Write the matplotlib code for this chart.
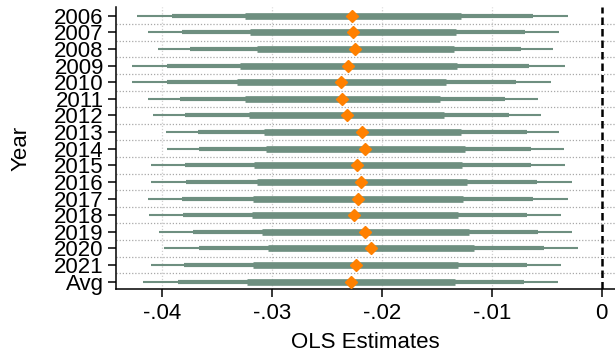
import matplotlib
matplotlib.use("Agg")
import matplotlib.pyplot as plt

plt.rcParams['font.family'] = ['Liberation Sans', 'DejaVu Sans']

years = ['2006', '2007', '2008', '2009', '2010', '2011', '2012', '2013',
         '2014', '2015', '2016', '2017', '2018', '2019', '2020', '2021', 'Avg']

# point estimates and the three interval widths (outer, middle, inner)
est = [-0.02267, -0.02261, -0.02240, -0.02306, -0.02370, -0.02358, -0.02318, -0.02179,
       -0.02149, -0.02222, -0.02188, -0.02218, -0.02249, -0.02149, -0.02100, -0.02236, -0.02282]
lo_outer = [-0.04227, -0.04127, -0.04036, -0.04273, -0.04267, -0.04127, -0.04082, -0.03964,
            -0.03955, -0.04100, -0.04097, -0.04127, -0.04115, -0.04027, -0.03979, -0.04100, -0.04167]
hi_outer = [-0.00304, -0.00388, -0.00440, -0.00334, -0.00464, -0.00582, -0.00552, -0.00388,
            -0.00343, -0.00334, -0.00273, -0.00309, -0.00373, -0.00273, -0.00218, -0.00373, -0.00395]
lo_mid = [-0.03904, -0.03818, -0.03740, -0.03949, -0.03955, -0.03834, -0.03788, -0.03667,
          -0.03658, -0.03788, -0.03779, -0.03813, -0.03806, -0.03718, -0.03664, -0.03795, -0.03855]
hi_mid = [-0.00627, -0.00697, -0.00734, -0.00658, -0.00779, -0.00879, -0.00843, -0.00682,
          -0.00643, -0.00643, -0.00591, -0.00622, -0.00682, -0.00582, -0.00525, -0.00682, -0.00704]
lo_in = [-0.03243, -0.03197, -0.03136, -0.03288, -0.03318, -0.03243, -0.03204, -0.03067,
         -0.03055, -0.03161, -0.03136, -0.03173, -0.03182, -0.03085, -0.03036, -0.03173, -0.03227]
hi_in = [-0.01282, -0.01325, -0.01340, -0.01318, -0.01415, -0.01470, -0.01434, -0.01279,
         -0.01243, -0.01273, -0.01227, -0.01264, -0.01309, -0.01206, -0.01158, -0.01309, -0.01334]

xticks = [-0.04, -0.03, -0.02, -0.01, 0]
xticklabels = ['-.04', '-.03', '-.02', '-.01', '0']

bar_col = '#6e8f80'
pt_col = '#ff8000'
fs = 16

fig = plt.figure(figsize=(6.15, 3.55), dpi=100)
ax = fig.add_axes([116.3 / 615, 66 / 355, (615 - 116.3) / 615, 281.7 / 355])

ypos = list(range(len(years)))

# grid
for x in xticks[:-1]:
    ax.axvline(x, color='#cfcfcf', lw=0.9, ls=(0, (1, 1.5)), zorder=0)
for i in range(len(years) - 1):
    ax.axhline(i + 0.5, color='#a8a8a8', lw=0.9, ls=(0, (1, 1.5)), zorder=0)

ax.hlines(ypos, lo_outer, hi_outer, color=bar_col, lw=1.5, zorder=2)
ax.hlines(ypos, lo_mid, hi_mid, color=bar_col, lw=3.0, zorder=3)
ax.hlines(ypos, lo_in, hi_in, color=bar_col, lw=4.8, zorder=4)
ax.plot(est, ypos, ls='none', marker='D', ms=6.6, color=pt_col, mec=pt_col, zorder=6)

ax.axvline(0, color='black', lw=1.8, ls=(0, (3, 1.6)), zorder=5)

ax.set_xlim(-0.04413, 0.00121)
ax.set_ylim(16.44, -0.505)
ax.set_xticks(xticks)
ax.set_xticklabels(xticklabels)
ax.set_yticks(ypos)
ax.set_yticklabels(years)
ax.tick_params(axis='both', labelsize=fs, length=6, width=1.1, color='black')
ax.tick_params(axis='x', pad=4)
ax.tick_params(axis='y', pad=3)

for s in ['top', 'right']:
    ax.spines[s].set_visible(False)
for s in ['left', 'bottom']:
    ax.spines[s].set_linewidth(1.1)

ax.set_xlabel('OLS Estimates', fontsize=fs, labelpad=6)
ax.set_ylabel('Year', fontsize=fs, labelpad=16)

fig.savefig('out.png', dpi=100)
